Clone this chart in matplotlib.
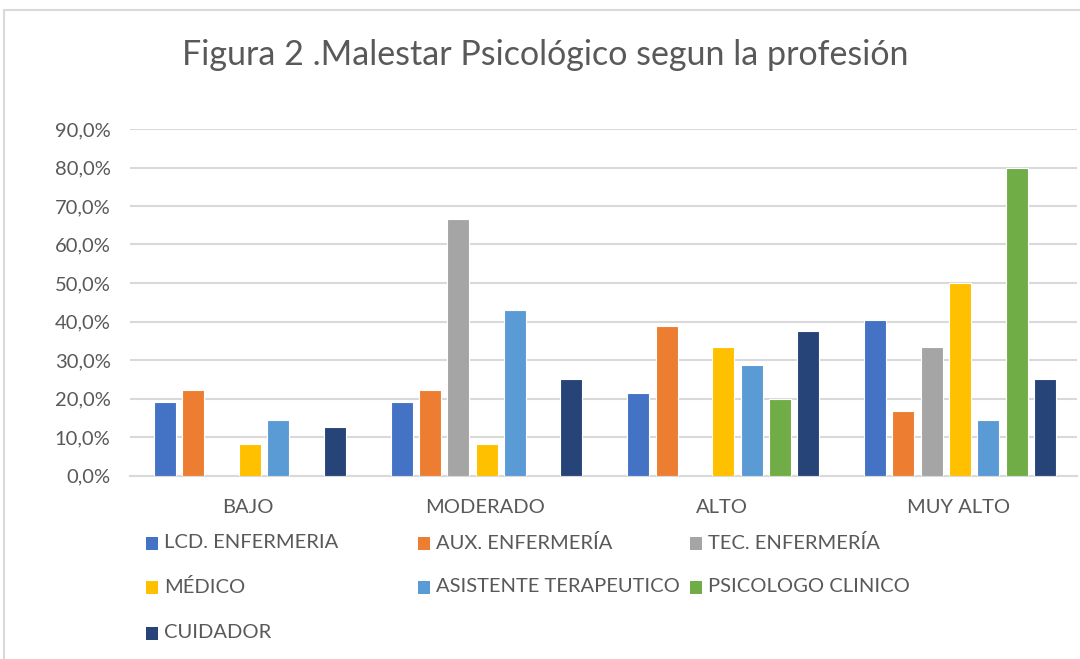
import numpy as np
import matplotlib.pyplot as plt
from matplotlib.patches import Rectangle
from matplotlib.ticker import FuncFormatter

plt.rcParams['font.family'] = ['Lato', 'DejaVu Sans']

# datos de la figura
niveles = ['BAJO', 'MODERADO', 'ALTO', 'MUY ALTO']
profesiones = ['LCD. ENFERMERIA', 'AUX. ENFERMERÍA', 'TEC. ENFERMERÍA',
               'MÉDICO', 'ASISTENTE TERAPEUTICO', 'PSICOLOGO CLINICO', 'CUIDADOR']
lcd_enfermeria = [19.0, 19.0, 21.4, 40.5]
aux_enfermeria = [22.2, 22.2, 38.9, 16.7]
tec_enfermeria = [0.0, 66.7, 0.0, 33.3]
medico = [8.3, 8.3, 33.3, 50.0]
asistente = [14.3, 42.9, 28.6, 14.3]
psicologo = [0.0, 0.0, 20.0, 80.0]
cuidador = [12.5, 25.0, 37.5, 25.0]
colores = ['#4472C4', '#ED7D31', '#A5A5A5', '#FFC000', '#5B9BD5', '#70AD47', '#264478']

series = [lcd_enfermeria, aux_enfermeria, tec_enfermeria, medico,
          asistente, psicologo, cuidador]

texto = '#595959'
gris = '#D9D9D9'

fig = plt.figure(figsize=(10.8, 6.59), dpi=100)
ax = fig.add_axes([130 / 1080, 1 - 475.5 / 659, 947 / 1080, 346.5 / 659])

x = np.arange(len(niveles))
paso = 0.1195
ancho = 0.093
for i, (vals, col) in enumerate(zip(series, colores)):
    pos = x + (i - 3) * paso + 0.006
    v = np.array(vals) / 100
    mask = v > 0
    ax.bar(pos[mask], v[mask], width=ancho, color=col, edgecolor='white',
           linewidth=0.8, zorder=3)

ax.set_xlim(-0.5, 3.5)
ax.set_ylim(0, 0.9)
ax.set_yticks(np.arange(0, 0.91, 0.1))
ax.yaxis.set_major_formatter(FuncFormatter(lambda v, p: f'{v * 100:.1f}%'.replace('.', ',')))
ax.set_xticks(x)
ax.set_xticklabels(niveles)
ax.grid(axis='y', color=gris, linewidth=1.5, zorder=0)
for s in ['top', 'right', 'left']:
    ax.spines[s].set_visible(False)
ax.spines['bottom'].set_color(gris)
ax.spines['bottom'].set_linewidth(1.5)
ax.tick_params(axis='both', length=0, colors=texto, labelsize=14.5)
ax.tick_params(axis='y', pad=14)
ax.tick_params(axis='x', pad=17)

fig.text(0.505, 1 - 55 / 659, 'Figura 2 .Malestar Psicológico segun la profesión',
         ha='center', va='center', fontsize=24.5, color=texto)

# leyenda a mano (3 columnas)
col_x = [147, 419, 691]
fila_y = [543, 587, 633]
for i, (nombre, col) in enumerate(zip(profesiones, colores)):
    cx = col_x[i % 3]
    cy = fila_y[i // 3]
    fig.patches.append(Rectangle(((cx - 1) / 1080, 1 - (cy + 7) / 659), 12 / 1080, 13 / 659,
                                 transform=fig.transFigure, facecolor=col,
                                 edgecolor='none'))
    fig.text((cx + 17) / 1080, 1 - cy / 659, nombre, ha='left', va='center',
             fontsize=14.5, color=texto)

# marco del gráfico
fig.patches.append(Rectangle((4 / 1080, -0.05), 1.1, 1 - 10 / 659 + 0.05,
                             transform=fig.transFigure, facecolor='none',
                             edgecolor=gris, linewidth=1.5))

fig.savefig('out.png', dpi=100)
